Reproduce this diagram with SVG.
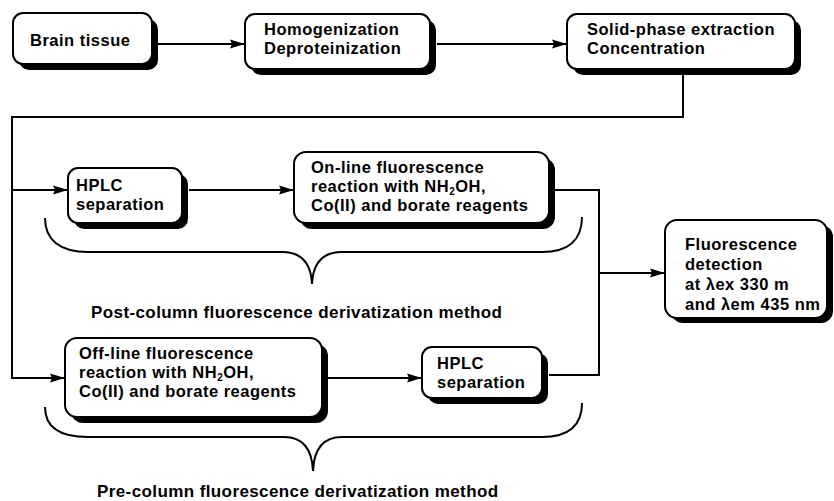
<svg xmlns="http://www.w3.org/2000/svg" width="834" height="501" viewBox="0 0 834 501">
<defs>
<style>
.sh{fill:#000}
.bx{fill:#fff;stroke:#000;stroke-width:2}
.t{font-family:"Liberation Sans",Arial,sans-serif;font-weight:bold;font-size:16.5px;letter-spacing:0.5px;fill:#000}
.lb{font-family:"Liberation Sans",Arial,sans-serif;font-weight:bold;font-size:17px;letter-spacing:0.4px;fill:#000}
.c{fill:none;stroke:#000;stroke-width:2}
.br{fill:none;stroke:#000;stroke-width:2}
.sub{font-size:10px}
</style>
<marker id="ah" markerUnits="userSpaceOnUse" markerWidth="15" markerHeight="10" refX="15" refY="5" orient="auto">
<path d="M0,0.5 L15,5 L0,9.5 L2,5 z" fill="#000"/>
</marker>
</defs>
<rect width="834" height="501" fill="#fff"/>

<g id="connectors">
<line class="c" x1="153" y1="44" x2="245" y2="44" marker-end="url(#ah)"/>
<line class="c" x1="437" y1="44" x2="567" y2="44" marker-end="url(#ah)"/>
<polyline class="c" points="683,75 683,117 12,117 12,378 65,378" marker-end="url(#ah)"/>
<line class="c" x1="12" y1="190" x2="68" y2="190" marker-end="url(#ah)"/>
<line class="c" x1="189" y1="190" x2="294" y2="190" marker-end="url(#ah)"/>
<line class="c" x1="328" y1="378" x2="422" y2="378" marker-end="url(#ah)"/>
<polyline class="c" points="555,190 599,190 599,375 549,375"/>
<line class="c" x1="599" y1="273" x2="665" y2="273" marker-end="url(#ah)"/>
</g>

<g id="node-brain">
<rect class="sh" x="19" y="19" width="139" height="51" rx="10"/>
<rect class="bx" x="13" y="13" width="139" height="51" rx="10"/>
<text class="t" x="30" y="46">Brain tissue</text>
</g>

<g id="node-homog">
<rect class="sh" x="251" y="20" width="185" height="55" rx="10"/>
<rect class="bx" x="245" y="14" width="185" height="55" rx="10"/>
<text class="t" x="264" y="35">Homogenization<tspan x="264" dy="19">Deproteinization</tspan></text>
</g>

<g id="node-spe">
<rect class="sh" x="573" y="20" width="228" height="55" rx="10"/>
<rect class="bx" x="567" y="14" width="228" height="55" rx="10"/>
<text class="t" x="587" y="35">Solid-phase extraction<tspan x="587" dy="19">Concentration</tspan></text>
</g>

<g id="node-hplc1">
<rect class="sh" x="74" y="174" width="114" height="55" rx="10"/>
<rect class="bx" x="68" y="168" width="114" height="55" rx="10"/>
<text class="t" x="76" y="191">HPLC<tspan x="76" dy="19">separation</tspan></text>
</g>

<g id="node-online">
<rect class="sh" x="300" y="158" width="255" height="71" rx="12"/>
<rect class="bx" x="294" y="152" width="255" height="71" rx="12"/>
<text class="t" x="311" y="173">On-line fluorescence<tspan x="311" dy="19">reaction with NH</tspan><tspan class="sub" dy="3">2</tspan><tspan dy="-3">OH,</tspan><tspan x="311" dy="19">Co(II) and borate reagents</tspan></text>
</g>

<g id="node-detect">
<rect class="sh" x="671" y="225" width="162" height="98" rx="12"/>
<rect class="bx" x="665" y="220" width="162" height="98" rx="12"/>
<text class="t" x="685" y="250">Fluorescence<tspan x="685" dy="20">detection</tspan><tspan x="685" dy="20">at λex 330 m</tspan><tspan x="685" dy="20">and λem 435 nm</tspan></text>
</g>

<g id="node-offline">
<rect class="sh" x="71" y="344" width="257" height="79" rx="12"/>
<rect class="bx" x="65" y="338" width="257" height="79" rx="12"/>
<text class="t" x="79" y="359">Off-line fluorescence<tspan x="79" dy="19">reaction with NH</tspan><tspan class="sub" dy="3">2</tspan><tspan dy="-3">OH,</tspan><tspan x="79" dy="19">Co(II) and borate reagents</tspan></text>
</g>

<g id="node-hplc2">
<rect class="sh" x="428" y="353" width="120" height="51" rx="10"/>
<rect class="bx" x="422" y="347" width="120" height="51" rx="10"/>
<text class="t" x="437" y="369">HPLC<tspan x="437" dy="19">separation</tspan></text>
</g>

<g id="brace-post">
<path class="br" d="M45,218 C45,240 60,252 88,252 L282,252 C300,252 311,262 312,284 C313,262 324,252 342,252 L542,252 C568,252 582,240 582,217"/>
<text class="lb" x="91" y="318">Post-column fluorescence derivatization method</text>
</g>

<g id="brace-pre">
<path class="br" d="M45,407 C45,428 60,437 88,437 L284,437 C302,437 312,448 313,471 C314,448 324,437 342,437 L542,437 C568,437 582,426 582,403"/>
<text class="lb" x="97" y="497">Pre-column fluorescence derivatization method</text>
</g>
</svg>
